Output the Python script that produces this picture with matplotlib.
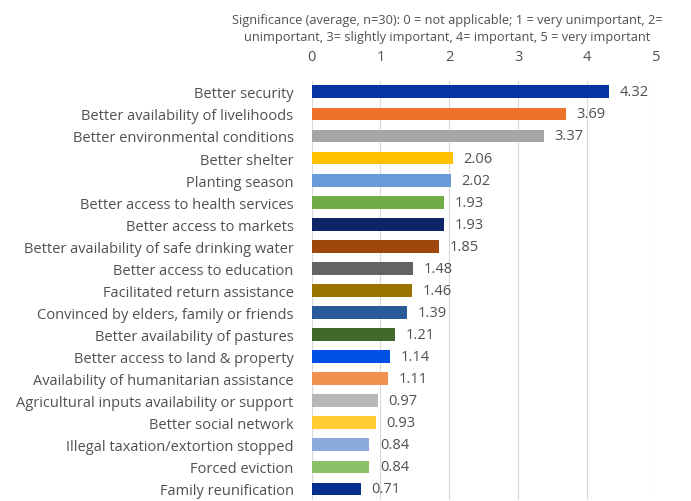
import matplotlib.pyplot as plt

categorias = [
    'Better security',
    'Better availability of livelihoods',
    'Better environmental conditions',
    'Better shelter',
    'Planting season',
    'Better access to health services',
    'Better access to markets',
    'Better availability of safe drinking water',
    'Better access to education',
    'Facilitated return assistance',
    'Convinced by elders, family or friends',
    'Better availability of pastures',
    'Better access to land & property',
    'Availability of humanitarian assistance',
    'Agricultural inputs availability or support',
    'Better social network',
    'Illegal taxation/extortion stopped',
    'Forced eviction',
    'Family reunification',
]
valores = [4.32, 3.69, 3.37, 2.06, 2.02, 1.93, 1.93, 1.85, 1.48, 1.46,
           1.39, 1.21, 1.14, 1.11, 0.97, 0.93, 0.84, 0.84, 0.71]
colores = ['#0535a3', '#ed7128', '#a5a5a5', '#ffc000', '#6a9bd8', '#70ad47',
           '#0d2668', '#9e480e', '#636363', '#997300', '#2b5a98', '#43682b',
           '#0050e6', '#f1914f', '#b7b7b7', '#ffcd33', '#8caadc', '#8cc168',
           '#042f8c']
titulo_eje = ('Significance (average, n=30): 0 = not applicable; 1 = very unimportant, 2=\n'
              'unimportant, 3= slightly important, 4= important, 5 = very important')

plt.rcParams['font.family'] = ['Open Sans', 'DejaVu Sans']
texto = '#505050'

fig = plt.figure(figsize=(6.91, 5.02), dpi=100)
ax = fig.add_axes([0.451, 0.002, 0.498, 0.835])

pos = list(range(len(categorias)))
ax.barh(pos, valores, height=0.58, color=colores, zorder=2)
for p, v in zip(pos, valores):
    ax.text(v + 0.15, p, f'{v:.2f}', va='center', ha='left', fontsize=10.5, color=texto)

ax.set_xlim(0, 5)
ax.set_ylim(len(categorias) - 0.5, -0.5)
ax.set_yticks(pos)
ax.set_yticklabels(categorias, fontsize=10.5, color=texto)
ax.xaxis.tick_top()
ax.set_xticks([0, 1, 2, 3, 4, 5])
ax.tick_params(axis='x', colors=texto, labelsize=10.5, length=0, pad=12)
ax.tick_params(axis='y', length=0, pad=13)
ax.grid(axis='x', color='#d9d9d9', linewidth=0.8, zorder=0)
for s in ax.spines.values():
    s.set_visible(False)

fig.text(447 / 691, 1 - 29 / 502, titulo_eje, ha='center', va='center',
         fontsize=9.2, color=texto, linespacing=1.45)

fig.savefig('out.png', dpi=100)
